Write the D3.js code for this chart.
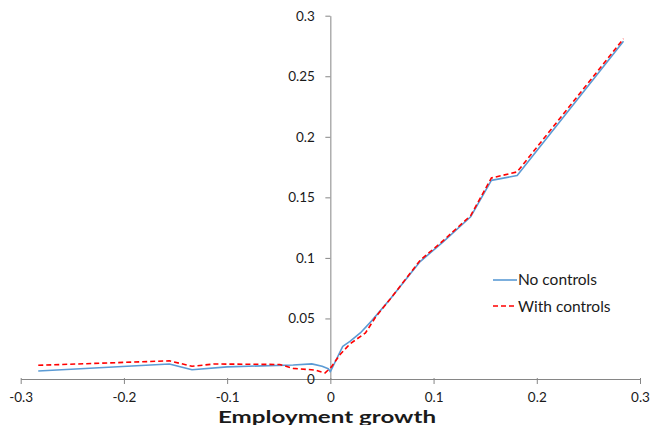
<!DOCTYPE html>
<html>
<head>
<meta charset="utf-8">
<script src="https://cdn.jsdelivr.net/npm/d3@7"></script>
<style>
  html, body { margin: 0; padding: 0; background: #fff; }
  svg { display: block; }
  text { font-family: Lato, "Open Sans", sans-serif; fill: #1a1a1a; }
</style>
</head>
<body>
<svg id="chart" width="652" height="425"></svg>
<script>
// ---- data ----
const noControlsX = [-0.283, -0.156, -0.134, -0.100, -0.036, -0.018, -0.008, -0.002, 0.000, 0.012, 0.019, 0.029, 0.040, 0.058, 0.087, 0.109, 0.136, 0.156, 0.181, 0.284];
const noControlsY = [0.0066, 0.0124, 0.0077, 0.0100, 0.0116, 0.0125, 0.0105, 0.0085, 0.0060, 0.0270, 0.0310, 0.0380, 0.0480, 0.0660, 0.0970, 0.1130, 0.1340, 0.1640, 0.1680, 0.2790];
const withControlsX = [-0.283, -0.156, -0.134, -0.113, -0.049, -0.036, -0.015, -0.005, 0.001, 0.009, 0.019, 0.034, 0.044, 0.058, 0.087, 0.109, 0.136, 0.156, 0.181, 0.284];
const withControlsY = [0.0113, 0.0150, 0.0105, 0.0124, 0.0120, 0.0088, 0.0074, 0.0050, 0.0100, 0.0198, 0.0290, 0.0380, 0.0514, 0.0660, 0.0980, 0.1140, 0.1350, 0.1660, 0.1710, 0.2810];
const xTicks = [-0.3, -0.2, -0.1, 0, 0.1, 0.2, 0.3];
const yTicks = [0, 0.05, 0.1, 0.15, 0.2, 0.25, 0.3];
const seriesNames = ["No controls", "With controls"];
const xTitle = "Employment growth";

// ---- layout ----
const svg = d3.select("#chart");
const x = d3.scaleLinear().domain([-0.3, 0.3]).range([20.7, 640]);
const y = d3.scaleLinear().domain([0, 0.3]).range([379, 15.7]);
const axisColor = "#868686";
const fmt = d => d === 0 ? "0" : String(+d.toFixed(2));

// x axis
const gx = svg.append("g").attr("transform", `translate(0,${y(0)})`)
  .call(d3.axisBottom(x).tickValues(xTicks).tickSize(5).tickSizeOuter(0).tickFormat(fmt));
gx.select(".domain").attr("stroke", axisColor);
gx.selectAll(".tick line").attr("stroke", axisColor).attr("y1", -1);
gx.selectAll(".tick text").attr("font-size", 13.5).attr("font-family", "Lato, sans-serif")
  .attr("fill", "#1a1a1a").attr("dy", null).attr("y", 23);

// y axis
const gy = svg.append("g").attr("transform", `translate(${x(0)},0)`)
  .call(d3.axisLeft(y).tickValues(yTicks).tickSize(5).tickSizeOuter(0).tickFormat(fmt));
gy.select(".domain").attr("stroke", axisColor);
gy.selectAll(".tick line").attr("stroke", axisColor);
gy.selectAll(".tick text").attr("font-size", 13.5).attr("font-family", "Lato, sans-serif")
  .attr("fill", "#1a1a1a").attr("x", -15.5);

// lines
const line = d3.line().x(d => x(d[0])).y(d => y(d[1]));
const blueData = noControlsX.map((v, i) => [v, noControlsY[i]]);
const redData = withControlsX.map((v, i) => [v, withControlsY[i]]);

svg.append("path").datum(blueData).attr("d", line)
  .attr("fill", "none").attr("stroke", "#5B9BD5").attr("stroke-width", 1.6)
  .attr("stroke-linejoin", "round");
svg.append("path").datum(redData).attr("d", line)
  .attr("fill", "none").attr("stroke", "#FF0000").attr("stroke-width", 1.6)
  .attr("stroke-dasharray", "5,3");

// legend
const leg = svg.append("g");
leg.append("line").attr("x1", 493).attr("x2", 517).attr("y1", 280).attr("y2", 280)
  .attr("stroke", "#5B9BD5").attr("stroke-width", 1.6);
leg.append("text").attr("x", 518).attr("y", 285).attr("font-size", 15.5).text(seriesNames[0]);
leg.append("line").attr("x1", 493).attr("x2", 517).attr("y1", 306).attr("y2", 306)
  .attr("stroke", "#FF0000").attr("stroke-width", 1.6).attr("stroke-dasharray", "5,3");
leg.append("text").attr("x", 518).attr("y", 311.5).attr("font-size", 15.5).text(seriesNames[1]);

// axis title
svg.append("text").attr("x", 327).attr("y", 422.5).attr("text-anchor", "middle")
  .attr("font-size", 17.5).attr("font-weight", "bold")
  .attr("textLength", 218).attr("lengthAdjust", "spacingAndGlyphs").text(xTitle);
</script>
</body>
</html>
